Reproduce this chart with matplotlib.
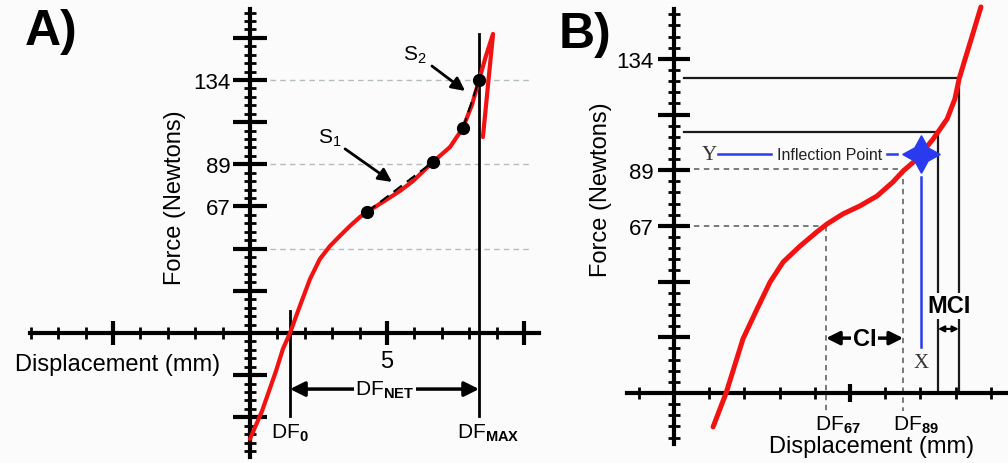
import matplotlib
matplotlib.use("Agg")
import matplotlib.pyplot as plt
import numpy as np

plt.rcParams['font.family'] = ['Liberation Sans', 'DejaVu Sans']
plt.rcParams['mathtext.fontset'] = 'custom'
plt.rcParams['mathtext.rm'] = 'Liberation Sans'
plt.rcParams['mathtext.bf'] = 'Liberation Sans:bold'
plt.rcParams['mathtext.it'] = 'Liberation Sans:italic'

# one y "step" on the drawn scale (134 N = 6 steps)
STEP = 134 / 6

# ---- panel A data: displacement (mm) vs force (N) ----
a_disp = [0.0, 0.44, 0.95, 1.20, 1.46, 1.82, 2.19, 2.55, 2.92, 3.28, 3.65, 4.01, 4.27,
          4.85, 5.47, 5.95, 6.68, 7.30, 7.77, 8.10, 8.36, 8.61, 8.87, 8.69, 8.50]
a_force = [-56.1, -41.3, -20.1, -8.5, 0.0, 14.3, 28.6, 39.2, 46.1, 51.4, 56.7, 61.4, 64.1,
           69.4, 75.2, 80.5, 90.6, 98.5, 108.6, 120.8, 134.0, 146.7, 158.4, 131.9, 103.8]
a_dot_disp = [4.27, 6.68, 7.77, 8.36]
a_dot_force = [64.1, 90.6, 108.6, 134.0]
df0 = 1.46
dfmax = 8.36
a_grid_force = [2 * STEP, 4 * STEP, 6 * STEP]

# ---- panel B data ----
b_disp = [1.11, 1.48, 1.96, 2.36, 2.73, 3.10, 3.58, 4.06, 4.35, 4.80, 5.28, 5.77, 6.22,
          6.51, 6.90, 7.36, 7.76, 7.98, 8.10, 8.27, 8.47, 8.72]
b_force = [-13.6, 0.0, 21.7, 33.7, 44.5, 52.5, 58.9, 64.6, 67.8, 71.8, 75.0, 79.0, 84.6,
           89.0, 93.8, 101.8, 109.9, 117.9, 125.9, 133.9, 143.1, 154.8]
df67 = 4.32
df89 = 6.51
inflect_disp, inflect_force = 7.02, 95.8
mci_lo_disp, mci_lo_force = 7.50, 104.6
mci_hi_disp, mci_hi_force = 8.09, 126.3

y_labels = {3: '67', 4: '89', 6: '134'}

bg = '#fbfbfb'
red = '#f21212'
blue = '#2a3bef'

fig = plt.figure(figsize=(10.08, 4.64), dpi=100, facecolor=bg)
axA = fig.add_axes([0, 0, 545 / 1008, 1])
axB = fig.add_axes([545 / 1008, 0, 463 / 1008, 1])


def style_axes(ax, xlim, ylim, xb, yb, xmaj, xmin, kmaj, jmin, xmaj_len, ymaj_len, ypad, xlabels):
    ax.set_facecolor(bg)
    ax.set_xlim(*xlim)
    ax.set_ylim(*ylim)
    for s in ['top', 'right']:
        ax.spines[s].set_visible(False)
    ax.spines['left'].set_position(('data', 0))
    ax.spines['bottom'].set_position(('data', 0))
    ax.spines['left'].set_bounds(*yb)
    ax.spines['bottom'].set_bounds(*xb)
    for s in ['left', 'bottom']:
        ax.spines[s].set_linewidth(3)
    ax.set_xticks(xmaj, labels=xlabels)
    ax.set_xticks(xmin, minor=True)
    ax.set_yticks([k * STEP for k in kmaj], labels=[y_labels.get(k, '') for k in kmaj])
    ax.set_yticks([j * STEP / 5 for j in jmin], minor=True)
    ax.tick_params(axis='x', which='major', direction='inout', length=xmaj_len, width=3,
                   labelsize=17, pad=4)
    ax.tick_params(axis='x', which='minor', direction='inout', length=8, width=2)
    ax.tick_params(axis='y', which='major', direction='inout', length=ymaj_len, width=3,
                   labelsize=16, pad=ypad)
    ax.tick_params(axis='y', which='minor', direction='inout', length=8.5, width=2)


style_axes(axA, (-9.124, 10.766), (-68.86, 176.9), (-8.03, 10.55), (-65.7, 171.6),
           [-5, 5, 10], [i for i in range(-8, 11) if i not in (-5, 0, 5, 10)],
           [-2, -1, 1, 2, 3, 4, 5, 6, 7],
           [j for j in range(-14, 39) if j % 5 != 0], 17, 24.5, 1.5, ['', '5', ''])
style_axes(axB, (-3.665, 9.489), (-28.07, 157.98), (-1.34, 9.49), (-20.4, 154.0),
           [5], [i for i in range(-1, 10) if i not in (0, 5)],
           [1, 2, 3, 4, 5, 6],
           [j for j in range(-4, 35) if j % 5 != 0], 13, 23, 3, [''])

# ---------------- panel A ----------------
for f in a_grid_force:
    axA.plot([0.73, 10.3], [f, f], color='#b4bcbc', lw=1, ls=(0, (4, 3)), zorder=1)
axA.plot([df0, df0], [11.7, -44], color='k', lw=2, zorder=2)
axA.plot([dfmax, dfmax], [158.4, -44], color='k', lw=2, zorder=2)
axA.plot(a_disp, a_force, color=red, lw=3, solid_capstyle='round',
         solid_joinstyle='round', zorder=3)
axA.plot(a_dot_disp[:2], a_dot_force[:2], color='k', lw=1.5, ls=(0, (5, 3)), zorder=4)
axA.plot(a_dot_disp[2:], a_dot_force[2:], color='k', lw=1.5, ls=(0, (5, 3)), zorder=4)
axA.plot(a_dot_disp, a_dot_force, 'o', color='k', ms=8.5, zorder=5)

axA.annotate('', xy=(dfmax, -29.7), xytext=(df0, -29.7),
             arrowprops=dict(arrowstyle='<|-|>', color='k', lw=2.5, mutation_scale=22,
                             shrinkA=0, shrinkB=0))
axA.text((df0 + dfmax) / 2, -29.7, r'DF$_{\mathbf{NET}}$', ha='center', va='center',
         fontsize=15, bbox=dict(facecolor=bg, edgecolor='none', pad=1))
axA.text(df0, -52.4, r'DF$_{\mathbf{0}}$', ha='center', va='center', fontsize=15)
axA.text(dfmax + 0.35, -52.4, r'DF$_{\mathbf{MAX}}$', ha='center', va='center', fontsize=15)

axA.annotate('', xy=(5.18, 80), xytext=(3.47, 97.5),
             arrowprops=dict(arrowstyle='-|>', color='k', lw=2, mutation_scale=20,
                             shrinkA=0, shrinkB=0))
axA.annotate('', xy=(7.85, 128.2), xytext=(6.64, 141.4),
             arrowprops=dict(arrowstyle='-|>', color='k', lw=2, mutation_scale=20,
                             shrinkA=0, shrinkB=0))
axA.text(2.92, 103.8, r'S$_1$', ha='center', va='center', fontsize=15)
axA.text(6.02, 147.8, r'S$_2$', ha='center', va='center', fontsize=15)

axA.text(-4.82, -16.4, 'Displacement (mm)', ha='center', va='center', fontsize=17)
axA.text(-2.74, 72, 'Force (Newtons)', ha='center', va='center', fontsize=17, rotation=90)
fig.text(25 / 1008, 1 - 32 / 464, 'A)', ha='left', va='center', fontsize=36,
         fontweight='bold')

# ---------------- panel B ----------------
grey = '#6c7070'
for d, f in [(df67, 67.0), (df89, 89.8)]:
    axB.plot([0.28, d], [f, f], color=grey, lw=1.3, ls=(0, (3, 2.5)), zorder=1)
    axB.plot([d, d], [f, -7.2], color=grey, lw=1.3, ls=(0, (3, 2.5)), zorder=1)
for d, f in [(mci_lo_disp, mci_lo_force), (mci_hi_disp, mci_hi_force)]:
    axB.plot([0.28, d, d], [f, f, 0], color='#1a1a1a', lw=1.6, zorder=2)
axB.plot(b_disp, b_force, color=red, lw=3.6, solid_capstyle='round',
         solid_joinstyle='round', zorder=3)

# inflection point markers
axB.plot([1.25, 2.76], [inflect_force, inflect_force], color=blue, lw=1.8, zorder=4)
axB.plot([6.05, 6.34], [inflect_force, inflect_force], color=blue, lw=1.8, zorder=4)
axB.plot([inflect_disp, inflect_disp], [86.6, 18.4], color=blue, lw=1.8, zorder=4)
axB.plot([inflect_disp], [inflect_force], marker=(4, 1, 0), color=blue, ms=27, zorder=6)
axB.text(4.43, inflect_force, 'Inflection Point', ha='center', va='center', fontsize=11.5,
         color='#222222')
axB.text(0.99, inflect_force, 'Y', ha='center', va='center', fontsize=15,
         family='Liberation Serif', color='#333333')
axB.text(inflect_disp, 12.4, 'X', ha='center', va='center', fontsize=15,
         family='Liberation Serif', color='#333333')

axB.annotate('', xy=(df89, 22), xytext=(df67, 22),
             arrowprops=dict(arrowstyle='<|-|>', color='k', lw=2.5, mutation_scale=20,
                             shrinkA=0, shrinkB=0))
axB.text((df67 + df89) / 2, 22, 'CI', ha='center', va='center', fontsize=17,
         fontweight='bold', bbox=dict(facecolor=bg, edgecolor='none', pad=1))
axB.annotate('', xy=(mci_hi_disp, 25.7), xytext=(mci_lo_disp, 25.7),
             arrowprops=dict(arrowstyle='<|-|>', color='k', lw=1.5, mutation_scale=9,
                             shrinkA=0, shrinkB=0))
axB.text(7.81, 34.9, 'MCI', ha='center', va='center', fontsize=17, fontweight='bold',
         zorder=5, bbox=dict(facecolor=bg, edgecolor='none', pad=1))

axB.text(df67 - 0.3, -12.4, r'DF$_{\mathbf{67}}$', ha='left', va='center', fontsize=15)
axB.text(df89 - 0.3, -12.4, r'DF$_{\mathbf{89}}$', ha='left', va='center', fontsize=15)
axB.text(5.6, -21.3, 'Displacement (mm)', ha='center', va='center', fontsize=17)
axB.text(-2.07, 81.8, 'Force (Newtons)', ha='center', va='center', fontsize=17, rotation=90)
fig.text(559 / 1008, 1 - 35 / 464, 'B)', ha='left', va='center', fontsize=36,
         fontweight='bold')

fig.savefig('out.png', dpi=100, facecolor=bg)
